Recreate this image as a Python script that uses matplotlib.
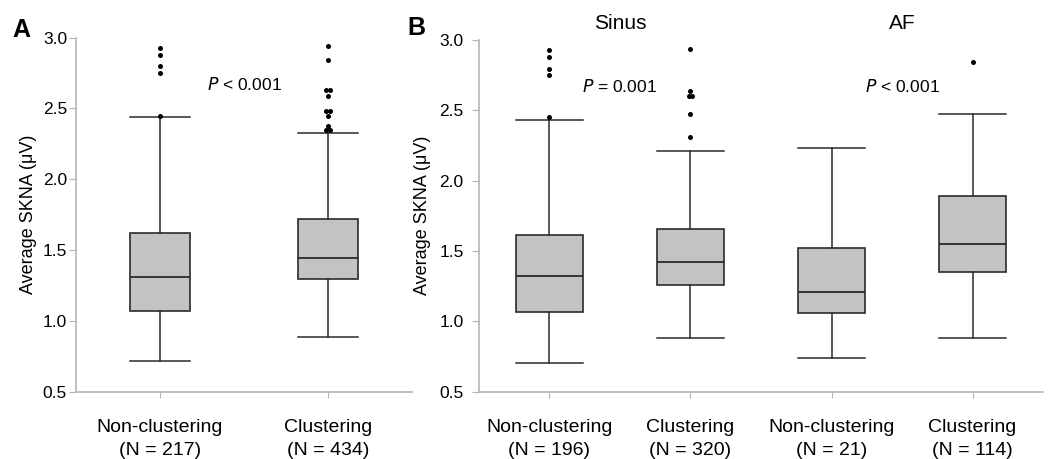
import numpy as np
import matplotlib
matplotlib.use("Agg")
from matplotlib import pyplot as plt

plt.rcParams['font.family'] = ['Liberation Sans', 'DejaVu Sans']

# Panel A: all recordings
labels_a = ["Non-clustering\n(N = 217)", "Clustering\n(N = 434)"]
whislo_a = [0.715, 0.887]
q1_a = [1.068, 1.297]
med_a = [1.307, 1.443]
q3_a = [1.617, 1.716]
whishi_a = [2.436, 2.326]
fliers_a = [
    [2.924, 2.876, 2.801, 2.747, 2.446],
    [2.940, 2.839, 2.629, 2.629, 2.589, 2.481, 2.481, 2.443, 2.377, 2.347, 2.347],
]

# Panel B: split by rhythm
labels_b = ["Non-clustering\n(N = 196)", "Clustering\n(N = 320)",
            "Non-clustering\n(N = 21)", "Clustering\n(N = 114)"]
whislo_b = [0.704, 0.884, 0.735, 0.884]
q1_b = [1.066, 1.258, 1.059, 1.351]
med_b = [1.322, 1.420, 1.209, 1.548]
q3_b = [1.614, 1.654, 1.519, 1.893]
whishi_b = [2.429, 2.213, 2.234, 2.472]
fliers_b = [
    [2.929, 2.881, 2.791, 2.749, 2.450],
    [2.938, 2.639, 2.600, 2.600, 2.472, 2.312],
    [],
    [2.841],
]

groups_b = ["Sinus", "AF"]
pvals_a = ["< 0.001"]
pvals_b = ["= 0.001", "< 0.001"]

box_fill = "#c3c3c3"
edge = "#2b2b2b"
spine_col = "#b5b5b5"


def draw_panel(ax, labels, lo, q1, med, q3, hi, fliers, width, ytick_pad, ylab_pad):
    stats = []
    for i in range(len(labels)):
        stats.append(dict(whislo=lo[i], q1=q1[i], med=med[i], q3=q3[i],
                          whishi=hi[i], fliers=[]))
    pos = np.arange(1, len(labels) + 1)
    ax.bxp(stats, positions=pos, widths=width, capwidths=width,
           patch_artist=True, showfliers=False,
           boxprops=dict(facecolor=box_fill, edgecolor=edge, linewidth=1.2),
           medianprops=dict(color=edge, linewidth=1.3),
           whiskerprops=dict(color=edge, linewidth=1.1),
           capprops=dict(color=edge, linewidth=1.1))
    # repeated outlier values are drawn side by side
    for p, fl in zip(pos, fliers):
        vals, counts = np.unique(fl, return_counts=True)
        for v, c in zip(vals, counts):
            xs = p + (np.arange(c) - (c - 1) / 2) * 0.028
            ax.plot(xs, [v] * c, 'o', color='black', markersize=3.6,
                    markeredgewidth=0)
    ax.set_xlim(0.5, len(labels) + 0.5)
    ax.set_ylim(0.5, 3.0)
    ax.set_yticks([0.5, 1.0, 1.5, 2.0, 2.5, 3.0])
    ax.set_yticklabels(["0.5", "1.0", "1.5", "2.0", "2.5", "3.0"])
    ax.set_xticks(pos)
    ax.set_xticklabels(labels, fontsize=14, linespacing=1.4)
    ax.tick_params(axis='x', length=4, color=spine_col, pad=16)
    ax.tick_params(axis='y', length=5, color=spine_col, labelsize=12.5,
                   pad=ytick_pad)
    for s in ['top', 'right']:
        ax.spines[s].set_visible(False)
    for s in ['left', 'bottom']:
        ax.spines[s].set_color(spine_col)
        ax.spines[s].set_linewidth(1.2)
    ax.set_ylabel("Average SKNA (μV)", fontsize=13, labelpad=ylab_pad)


fig = plt.figure(figsize=(10.49, 4.59), dpi=100)
ax_a = fig.add_axes([0.0725, 0.147, 0.3203, 0.771])
ax_b = fig.add_axes([0.4566, 0.147, 0.5377, 0.766])

draw_panel(ax_a, labels_a, whislo_a, q1_a, med_a, q3_a, whishi_a, fliers_a,
           0.36, 1.5, 4)
draw_panel(ax_b, labels_b, whislo_b, q1_b, med_b, q3_b, whishi_b, fliers_b,
           0.48, 6, 6)

ax_a.text(1.5, 2.67, r"$\it{P}$ " + pvals_a[0], ha='center', va='center', fontsize=12.5)
for k, (g, p) in enumerate(zip(groups_b, pvals_b)):
    xc = 1.5 + 2 * k
    ax_b.text(xc, 2.67, r"$\it{P}$ " + p, ha='center', va='center', fontsize=12.5)
    ax_b.text(xc, 3.12, g, ha='center', va='center', fontsize=15,
              clip_on=False)

fig.text(0.012, 0.935, "A", fontsize=18, fontweight='bold', va='center')
fig.text(0.388, 0.94, "B", fontsize=18, fontweight='bold', va='center')

fig.savefig("out.png", dpi=100)
